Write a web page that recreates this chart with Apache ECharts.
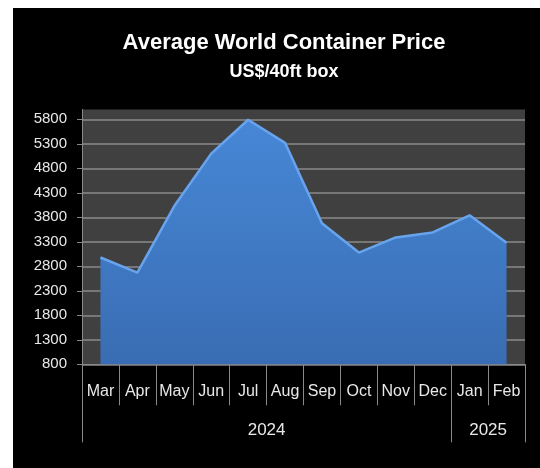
<!DOCTYPE html>
<html>
<head>
<meta charset="utf-8">
<script src="https://cdn.jsdelivr.net/npm/echarts@6/dist/echarts.min.js"></script>
<style>
  html, body { margin: 0; padding: 0; background: #ffffff; }
  #frame { position: absolute; left: 13px; top: 8px; right: 0; bottom: 0; background: #000000; }
  #chart { position: absolute; left: 0; top: 0; width: 540px; height: 468px; }
</style>
</head>
<body>
<div id="frame"></div>
<div id="chart"></div>
<script>
// ---- data ----
const months = ['Mar', 'Apr', 'May', 'Jun', 'Jul', 'Aug', 'Sep', 'Oct', 'Nov', 'Dec', 'Jan', 'Feb'];
const monthYears = ['2024', '2024', '2024', '2024', '2024', '2024', '2024', '2024', '2024', '2024', '2025', '2025'];
const prices = [2980, 2670, 4030, 5100, 5790, 5320, 3680, 3080, 3390, 3490, 3840, 3280];
const yTicks = { min: 800, max: 6000, step: 500 };
const titleText = 'Average World Container Price';
const subtitleText = 'US$/40ft box';

// ---- year group axis built from monthYears (boundaries between categories) ----
const boundaries = [];
const groups = [];
for (let i = 0; i < monthYears.length; i++) {
  if (i === 0 || monthYears[i] !== monthYears[i - 1]) {
    boundaries.push(i);
    groups.push({ year: monthYears[i], start: i });
  }
}
boundaries.push(monthYears.length);
groups.forEach((g, k) => { g.end = boundaries[k + 1]; });
const yearAxisData = [];
for (let i = 0; i <= monthYears.length; i++) yearAxisData.push('');
groups.forEach(g => { yearAxisData[(g.start + g.end) / 2] = g.year; });

const font = 'Liberation Sans, Arial, sans-serif';
const gray = '#8a8a8a';
const textColor = '#e8e8e8';

const chart = echarts.init(document.getElementById('chart'), null, { renderer: 'canvas' });
chart.setOption({
  backgroundColor: 'transparent',
  animation: false,
  title: [
    { text: titleText, left: 279, top: 27, textAlign: 'center',
      textStyle: { color: '#ffffff', fontFamily: font, fontWeight: 'bold', fontSize: 22 } },
    { text: subtitleText, left: 279, top: 58, textAlign: 'center',
      textStyle: { color: '#ffffff', fontFamily: font, fontWeight: 'bold', fontSize: 18 } }
  ],
  grid: {
    left: 82, right: 15, top: 109.5, bottom: 103.7,
    show: true, backgroundColor: '#404040', borderWidth: 0
  },
  xAxis: [
    {
      type: 'category', data: months, boundaryGap: true, position: 'bottom',
      axisLine: { show: true, lineStyle: { color: gray, width: 1 } },
      axisTick: { show: true, interval: 0, length: 41, lineStyle: { color: gray, width: 1 } },
      axisLabel: { interval: 0, color: textColor, fontFamily: font, fontSize: 16, margin: 19 },
      splitLine: { show: false }
    },
    {
      type: 'category', data: yearAxisData, boundaryGap: false, position: 'bottom',
      axisLine: { show: false },
      axisTick: { show: true, length: 78,
        interval: function (index) { return boundaries.indexOf(index) >= 0; },
        lineStyle: { color: gray, width: 1 } },
      axisLabel: { interval: 0, color: textColor, fontFamily: font, fontSize: 17, margin: 58 },
      splitLine: { show: false }
    }
  ],
  yAxis: {
    type: 'value', min: yTicks.min, max: yTicks.max, interval: yTicks.step,
    axisLine: { show: true, lineStyle: { color: gray, width: 1 } },
    axisTick: { show: true, length: 5, lineStyle: { color: gray } },
    axisLabel: { color: textColor, fontFamily: font, fontSize: 15, margin: 15, showMaxLabel: false,
      formatter: function (v) { return String(v); } },
    splitLine: { show: true, showMaxLine: false, lineStyle: { color: gray, width: 1.5 } }
  },
  series: [{
    type: 'line',
    xAxisIndex: 0,
    data: prices,
    symbol: 'none',
    smooth: false,
    lineStyle: { color: '#68a4ee', width: 2.5 },
    areaStyle: {
      opacity: 1,
      color: new echarts.graphic.LinearGradient(0, 0, 0, 1, [
        { offset: 0, color: '#4787d6' },
        { offset: 1, color: '#396db3' }
      ])
    }
  }]
});
</script>
</body>
</html>
